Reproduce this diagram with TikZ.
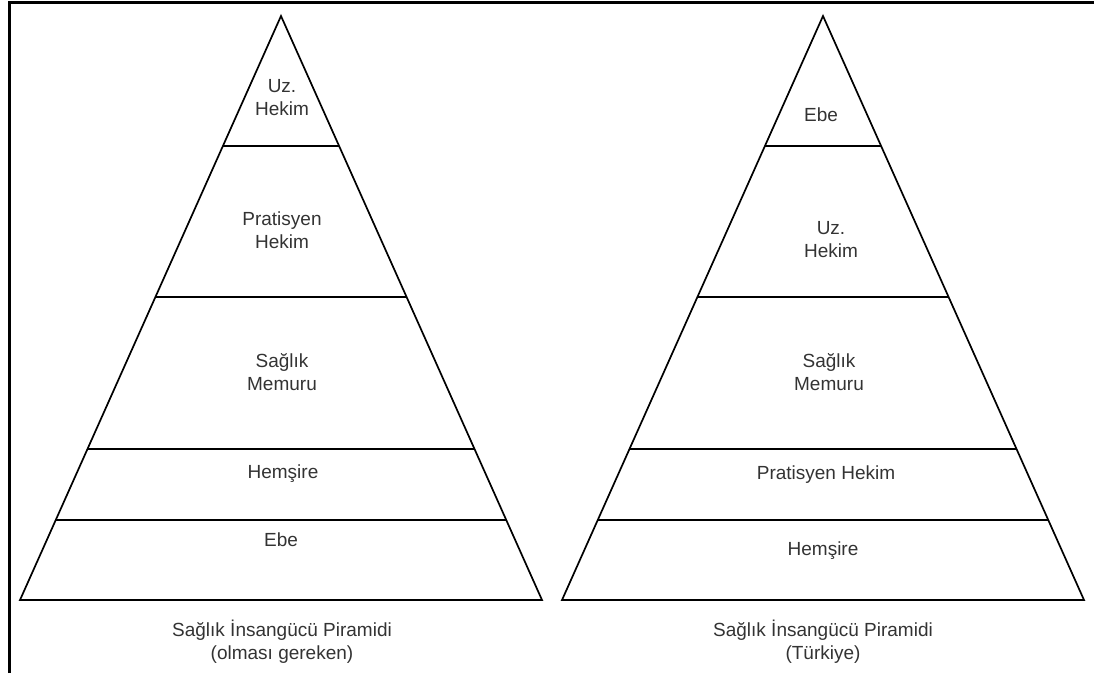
\documentclass[tikz,border=0pt]{standalone}
\usepackage{fontspec}
\setmainfont{Liberation Sans}
\usetikzlibrary{calc}
\definecolor{txt}{HTML}{333333}
\begin{document}
\begin{tikzpicture}[x=1pt,y=-1pt,
  lbl/.style={anchor=base,align=center,inner sep=0pt,text=txt,font=\fontsize{19}{23}\selectfont},
  edge/.style={draw=black,line width=1.7pt,line join=miter},
  frame/.style={draw=black,line width=2.8pt}]
\useasboundingbox (0,0) rectangle (1094,673);
\draw[frame] (9.5,673) -- (9.5,2.5) -- (1094,2.5);
% left pyramid
\coordinate (LA) at (281,16);
\coordinate (LL) at (20,600);
\coordinate (LR) at (542,600);
\draw[edge] (LL) -- (LA) -- (LR) -- cycle;
\foreach \f in {0.2226,0.4812,0.7414,0.8630}
  \draw[edge] ($(LA)!\f!(LL)$) -- ($(LA)!\f!(LR)$);
% right pyramid
\coordinate (RA) at (823,16);
\coordinate (RL) at (562,600);
\coordinate (RR) at (1084,600);
\draw[edge] (RL) -- (RA) -- (RR) -- cycle;
\foreach \f in {0.2226,0.4812,0.7414,0.8630}
  \draw[edge] ($(RA)!\f!(RL)$) -- ($(RA)!\f!(RR)$);
% left labels (anchor = baseline of last line)
\node[lbl] (l1) at (282,115) {Uz.\\Hekim};
\node[lbl] (l2) at (282,248) {Pratisyen\\Hekim};
\node[lbl] (l3) at (282,390) {Sağlık\\Memuru};
\node[lbl] (l4) at (283,478) {Hemşire};
\node[lbl] (l5) at (281,546) {Ebe};
\node[lbl] (lc) at (282,659) {Sağlık İnsangücü Piramidi\\(olması gereken)};
% right labels
\node[lbl] (r1) at (821,121) {Ebe};
\node[lbl] (r2) at (831,257) {Uz.\\Hekim};
\node[lbl] (r3) at (829,390) {Sağlık\\Memuru};
\node[lbl] (r4) at (826,479) {Pratisyen Hekim};
\node[lbl] (r5) at (823,555) {Hemşire};
\node[lbl] (rc) at (823,659) {Sağlık İnsangücü Piramidi\\(Türkiye)};
\end{tikzpicture}
\end{document}
